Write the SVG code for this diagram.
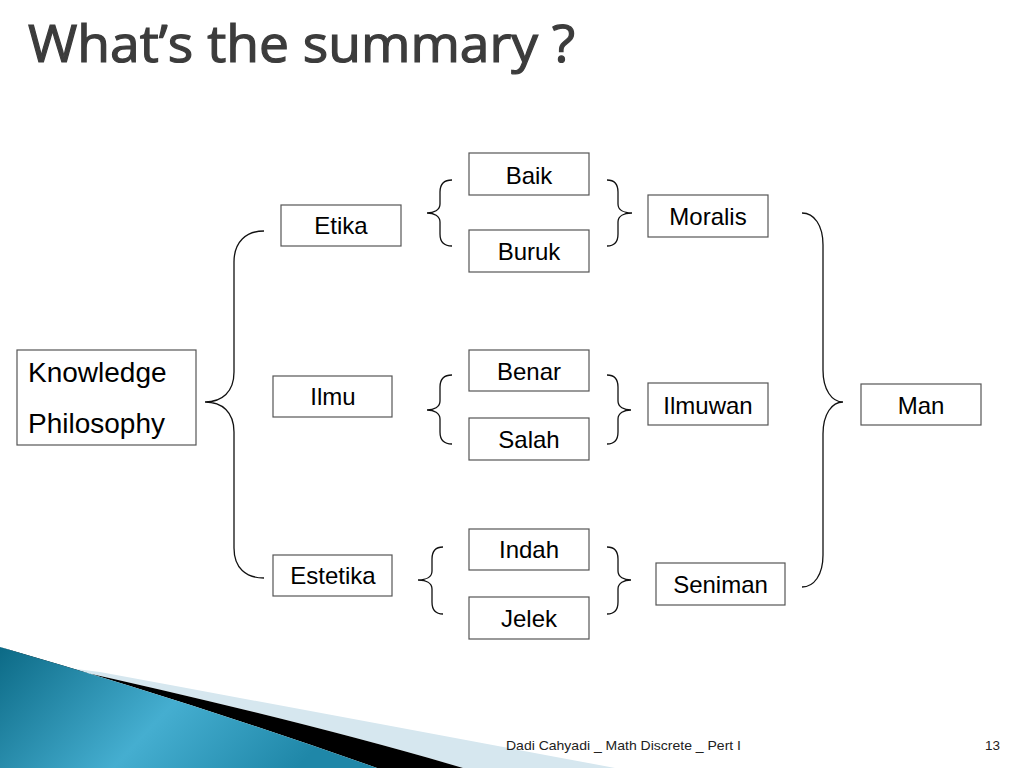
<svg xmlns="http://www.w3.org/2000/svg" width="1024" height="768" viewBox="0 0 1024 768">
<defs>
<style>
.box{fill:#fff;stroke:#555;stroke-width:1.2}
.lbl{font-family:"Liberation Sans",Arial,sans-serif;font-size:24px;fill:#000;text-anchor:middle}
.br{fill:none;stroke:#111;stroke-width:1.3}
</style>
<linearGradient id="teal" x1="0" y1="0" x2="1" y2="0.3">
<stop offset="0" stop-color="#0c6a86"/>
<stop offset="0.55" stop-color="#45aed0"/>
<stop offset="1" stop-color="#1f87a8"/>
</linearGradient>
</defs>
<rect width="1024" height="768" fill="#fff"/>
<text x="28" y="62" font-family="Open Sans, DejaVu Sans, sans-serif" font-size="52" fill="#3c3c3c" stroke="#3c3c3c" stroke-width="1.2" textLength="547" lengthAdjust="spacingAndGlyphs">What’s the summary ?</text>

<g id="decor">
<path d="M100,672 Q360,720 615,768 L463,768 Q300,720 60,667 Z" fill="#d6e7ef"/>
<path d="M60,667 Q300,720 463,768 L377,768 Q200,705 0,647 Z" fill="#000"/>
<path d="M0,647 Q200,705 377,768 L0,768 Z" fill="url(#teal)"/>
</g>

<g id="connectors">
<path class="br" d="M264,231 C246,231 234,242 234,262 L234,372 C234,392 222,402 205,402 C222,402 234,412 234,432 L234,548 C234,568 246,578 264,578"/>
<path class="br" d="M802,213 C814,213 823,225 823,245 L823,370 C823,390 832,402 843,402 C832,402 823,414 823,434 L823,555 C823,575 814,587 802,587"/>
<path class="br" d="M452,180 C444,180 440,184 440,192 L440,204 C440,210 434,213 427,213 C434,213 440,216 440,222 L440,234 C440,242 444,246 452,246"/>
<path class="br" d="M607,180 C615,180 618,184 618,192 L618,204 C618,210 624,213 632,213 C624,213 618,216 618,222 L618,234 C618,242 615,246 607,246"/>
<path class="br" d="M452,375 C444,375 440,379 440,387 L440,401 C440,407 434,410 427,410 C434,410 440,413 440,419 L440,432 C440,440 444,444 452,444"/>
<path class="br" d="M607,375 C615,375 618,379 618,387 L618,401 C618,407 624,410 631,410 C624,410 618,413 618,419 L618,432 C618,440 615,444 607,444"/>
<path class="br" d="M443,547 C436,547 432,551 432,559 L432,571 C432,577 426,580 418,580 C426,580 432,583 432,589 L432,602 C432,610 436,614 443,614"/>
<path class="br" d="M607,547 C615,547 618,551 618,559 L618,571 C618,577 624,580 631,580 C624,580 618,583 618,589 L618,602 C618,610 615,614 607,614"/>
</g>

<g id="knowledge"><rect class="box" x="17" y="350" width="179" height="95"/>
<text x="28" y="382" font-family="Liberation Sans,Arial,sans-serif" font-size="28">Knowledge</text>
<text x="28" y="433" font-family="Liberation Sans,Arial,sans-serif" font-size="28">Philosophy</text></g>
<g id="etika"><rect class="box" x="281" y="205" width="120" height="41"/><text class="lbl" x="341" y="234">Etika</text></g>
<g id="ilmu"><rect class="box" x="273" y="376" width="119" height="41"/><text class="lbl" x="333" y="405">Ilmu</text></g>
<g id="estetika"><rect class="box" x="273" y="555" width="119" height="41"/><text class="lbl" x="333" y="584">Estetika</text></g>
<g id="baik"><rect class="box" x="469" y="153" width="120" height="42"/><text class="lbl" x="529" y="184">Baik</text></g>
<g id="buruk"><rect class="box" x="469" y="230" width="120" height="42"/><text class="lbl" x="529" y="260">Buruk</text></g>
<g id="benar"><rect class="box" x="469" y="350" width="120" height="41"/><text class="lbl" x="529" y="380">Benar</text></g>
<g id="salah"><rect class="box" x="469" y="418" width="120" height="42"/><text class="lbl" x="529" y="448">Salah</text></g>
<g id="indah"><rect class="box" x="469" y="529" width="120" height="41"/><text class="lbl" x="529" y="558">Indah</text></g>
<g id="jelek"><rect class="box" x="469" y="597" width="120" height="42"/><text class="lbl" x="529" y="627">Jelek</text></g>
<g id="moralis"><rect class="box" x="648" y="195" width="120" height="42"/><text class="lbl" x="708" y="225">Moralis</text></g>
<g id="ilmuwan"><rect class="box" x="648" y="383" width="120" height="42"/><text class="lbl" x="708" y="414">Ilmuwan</text></g>
<g id="seniman"><rect class="box" x="656" y="563" width="129" height="42"/><text class="lbl" x="720.5" y="593">Seniman</text></g>
<g id="man"><rect class="box" x="861" y="384" width="120" height="41"/><text class="lbl" x="921" y="414">Man</text></g>

<text x="506" y="750" font-family="Liberation Sans,Arial,sans-serif" font-size="13" fill="#222" textLength="235" lengthAdjust="spacingAndGlyphs">Dadi Cahyadi _ Math Discrete _ Pert I</text>
<text x="985" y="750" font-family="Liberation Sans,Arial,sans-serif" font-size="13" fill="#222" textLength="15" lengthAdjust="spacingAndGlyphs">13</text>
</svg>
